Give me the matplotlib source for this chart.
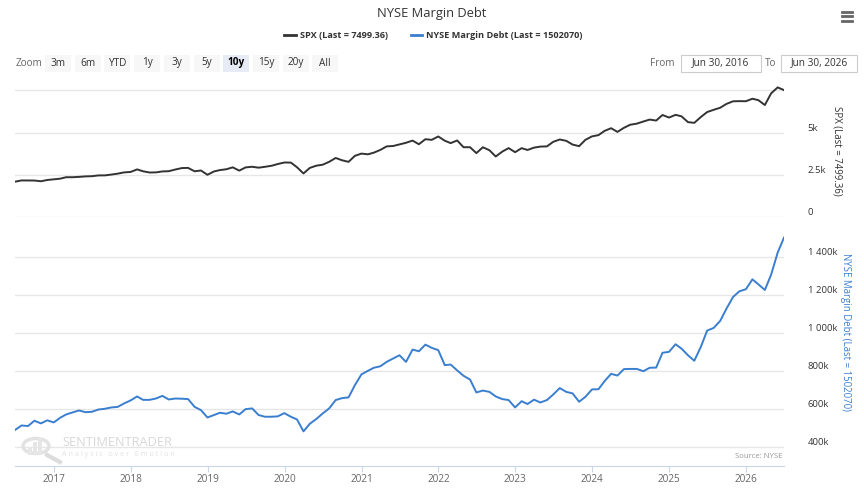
import numpy as np
import pandas as pd
import matplotlib
matplotlib.use('Agg')
import matplotlib.pyplot as plt
from matplotlib.patches import Rectangle, Circle
from matplotlib.lines import Line2D
import matplotlib.dates as mdates

W, H = 864, 499
plt.rcParams['font.family'] = ['Open Sans', 'DejaVu Sans']

# month-end dates, Jun 2016 .. Jun 2026
dates = pd.date_range('2016-07-01', '2026-07-01', freq='MS') - pd.Timedelta(days=1)

spx = [
    2099, 2174, 2171, 2168, 2126, 2199, 2239,
    2279, 2364, 2363, 2384, 2412, 2423, 2470, 2472, 2519, 2575, 2648, 2674,
    2824, 2714, 2641, 2648, 2705, 2718, 2816, 2902, 2914, 2712, 2760, 2507,
    2704, 2784, 2834, 2946, 2752, 2942, 2980, 2926, 2977, 3038, 3141, 3231,
    3226, 2954, 2585, 2912, 3044, 3100, 3271, 3500, 3363, 3270, 3622, 3756,
    3714, 3811, 3973, 4181, 4204, 4298, 4395, 4523, 4308, 4605, 4567, 4766,
    4516, 4374, 4530, 4132, 4132, 3785, 4130, 3955, 3586, 3872, 4080, 3840,
    4077, 3970, 4109, 4169, 4180, 4450, 4589, 4508, 4288, 4194, 4568, 4770,
    4846, 5096, 5254, 5036, 5278, 5460, 5522, 5648, 5762, 5705, 6032, 5882,
    6041, 5955, 5612, 5569, 5912, 6205, 6339, 6460, 6688, 6840, 6849, 6845,
    6990, 6910, 6620, 7310, 7660, 7499.36,
]

# NYSE margin debt, thousands (axis shows "k")
margin_k = [
    488, 512, 509, 537, 523, 539, 528,
    553, 570, 581, 591, 582, 584, 596, 600, 607, 610, 628, 644,
    665, 647, 647, 654, 668, 649, 654, 653, 651, 610, 593, 554,
    567, 579, 574, 586, 570, 598, 602, 567, 558, 558, 560, 577,
    558, 544, 481, 521, 546, 575, 602, 646, 656, 660, 724, 781,
    800, 816, 824, 847, 865, 882, 847, 912, 903, 938, 921, 909,
    830, 833, 802, 774, 754, 686, 696, 689, 665, 651, 646, 607,
    640, 625, 648, 633, 646, 675, 709, 689, 681, 637, 663, 702,
    703, 746, 784, 775, 809, 810, 810, 798, 816, 817, 895, 900,
    940, 917, 882, 853, 926, 1012, 1026, 1063, 1128, 1189, 1219, 1230,
    1282, 1256, 1226, 1307, 1423, 1502.07,
]

spx_ticks = [0, 2500, 5000, 7500]
spx_labels = ['0', '2.5k', '5k', '']
md_ticks = [400, 600, 800, 1000, 1200, 1400]
md_labels = ['400k', '600k', '800k', '1 000k', '1 200k', '1 400k']
zoom_buttons = ['3m', '6m', 'YTD', '1y', '3y', '5y', '10y', '15y', '20y', 'All']

BLUE = '#3a7ecf'
DARK = '#333333'
GRID = '#e6e6e6'


def frac(x0, y0, x1, y1):
    return [x0 / W, 1 - y1 / H, (x1 - x0) / W, (y1 - y0) / H]


def fx(x):
    return x / W


def fy(y):
    return 1 - y / H


fig = plt.figure(figsize=(W / 100, H / 100), dpi=100)

ax1 = fig.add_axes(frac(15, 86, 784, 217.3))
ax2 = fig.add_axes(frac(15, 219, 784, 465.7), sharex=ax1)

ax1.plot(dates, spx, color=DARK, lw=1.4, zorder=3)
ax2.plot(dates, margin_k, color=BLUE, lw=1.4, zorder=3)

ax1.set_xlim(dates[0], dates[-1])
ax1.set_ylim(0, 7742)
ax2.set_ylim(300, 1600)

for ax, ticks, labels in ((ax1, spx_ticks, spx_labels), (ax2, md_ticks, md_labels)):
    for s in ax.spines.values():
        s.set_visible(False)
    ax.set_yticks(ticks)
    ax.set_yticklabels(labels)
    ax.yaxis.tick_right()
    ax.tick_params(axis='y', length=0, pad=17, labelsize=6.8, labelcolor='#333333')
    for lab in ax.get_yticklabels():
        lab.set_verticalalignment('bottom')
    ax.grid(axis='y', color=GRID, lw=1)
    ax.set_axisbelow(True)
    ax.patch.set_alpha(0)

ax1.tick_params(axis='x', bottom=False, labelbottom=False)

ax2.spines['bottom'].set_visible(True)
ax2.spines['bottom'].set_color('#ccd6eb')
ax2.xaxis.set_major_locator(mdates.YearLocator())
ax2.xaxis.set_major_formatter(mdates.DateFormatter('%Y'))
ax2.tick_params(axis='x', length=4.3, color='#ccd6eb', labelsize=7.2,
                labelcolor='#666666', pad=2)

# axis titles on the right
fig.text(fx(837), fy(151), 'SPX (Last = 7499.36)', rotation=270, ha='center',
         va='center', fontsize=6.9, color=DARK)
fig.text(fx(846), fy(332), 'NYSE Margin Debt (Last = 1502070)', rotation=270,
         ha='center', va='center', fontsize=6.9, color=BLUE)

# title and legend
fig.text(fx(432), fy(14), 'NYSE Margin Debt', ha='center', va='center',
         fontsize=9.3, color=DARK)
fig.add_artist(Line2D([fx(284), fx(296)], [fy(35), fy(35)], color=DARK, lw=2))
fig.text(fx(300), fy(35), 'SPX (Last = 7499.36)', ha='left', va='center',
         fontsize=6.6, fontweight='bold', color=DARK)
fig.add_artist(Line2D([fx(411), fx(422)], [fy(35), fy(35)], color=BLUE, lw=2))
fig.text(fx(426), fy(35), 'NYSE Margin Debt (Last = 1502070)', ha='left',
         va='center', fontsize=6.6, fontweight='bold', color=DARK)

# hamburger menu
for yy in (11.5, 16, 20.5):
    fig.add_artist(Line2D([fx(842), fx(852)], [fy(yy), fy(yy)], color='#666666', lw=2))

# range selector
fig.text(fx(16), fy(63), 'Zoom', ha='left', va='center', fontsize=7.2, color='#666666')
for i, lab in enumerate(zoom_buttons):
    cx = 58 + i * 29.7
    sel = lab == '10y'
    fig.add_artist(Rectangle((fx(cx - 13), fy(72)), 26 / W, 17 / H,
                             transform=fig.transFigure,
                             facecolor='#e6ebf5' if sel else '#f7f7f7',
                             edgecolor='none'))
    fig.text(fx(cx), fy(63), lab, ha='center', va='center', fontsize=7.2,
             color='#000000' if sel else '#333333',
             fontweight='bold' if sel else 'normal')

fig.text(fx(662), fy(63), 'From', ha='center', va='center', fontsize=7.2, color='#666666')
fig.text(fx(771), fy(63), 'To', ha='center', va='center', fontsize=7.2, color='#666666')
for x0, x1, txt in ((681, 761, 'Jun 30, 2016'), (781, 857, 'Jun 30, 2026')):
    fig.add_artist(Rectangle((fx(x0), fy(72)), (x1 - x0) / W, 17 / H,
                             transform=fig.transFigure, facecolor='white',
                             edgecolor='#cccccc', lw=0.8))
    fig.text(fx((x0 + x1) / 2), fy(63), txt, ha='center', va='center',
             fontsize=7.2, color='#333333')

# watermark
fig.add_artist(Circle((fx(36), fy(446)), 13 / W, transform=fig.transFigure,
                      facecolor='none', edgecolor='#e2e2e2', lw=2.5))
for bx, bh in ((28, 8), (33, 13), (38, 17)):
    fig.add_artist(Rectangle((fx(bx), fy(455)), 4 / W, bh / H,
                             transform=fig.transFigure, facecolor='#e6e6e6',
                             edgecolor='none'))
fig.add_artist(Line2D([fx(47), fx(60)], [fy(455), fy(462)], color='#dcdcdc', lw=3))
fig.text(fx(62), fy(442), 'SENTIMENTRADER', ha='left', va='center',
         fontsize=9.2, color='#d8d8d8')
fig.text(fx(62), fy(454), 'A n a l y s i s   o v e r   E m o t i o n', ha='left',
         va='center', fontsize=5.2, color='#e2e2e2')

fig.text(fx(782), fy(457), 'Source: NYSE', ha='right', va='center',
         fontsize=5.6, color='#999999')

fig.savefig('out.png', dpi=100)
